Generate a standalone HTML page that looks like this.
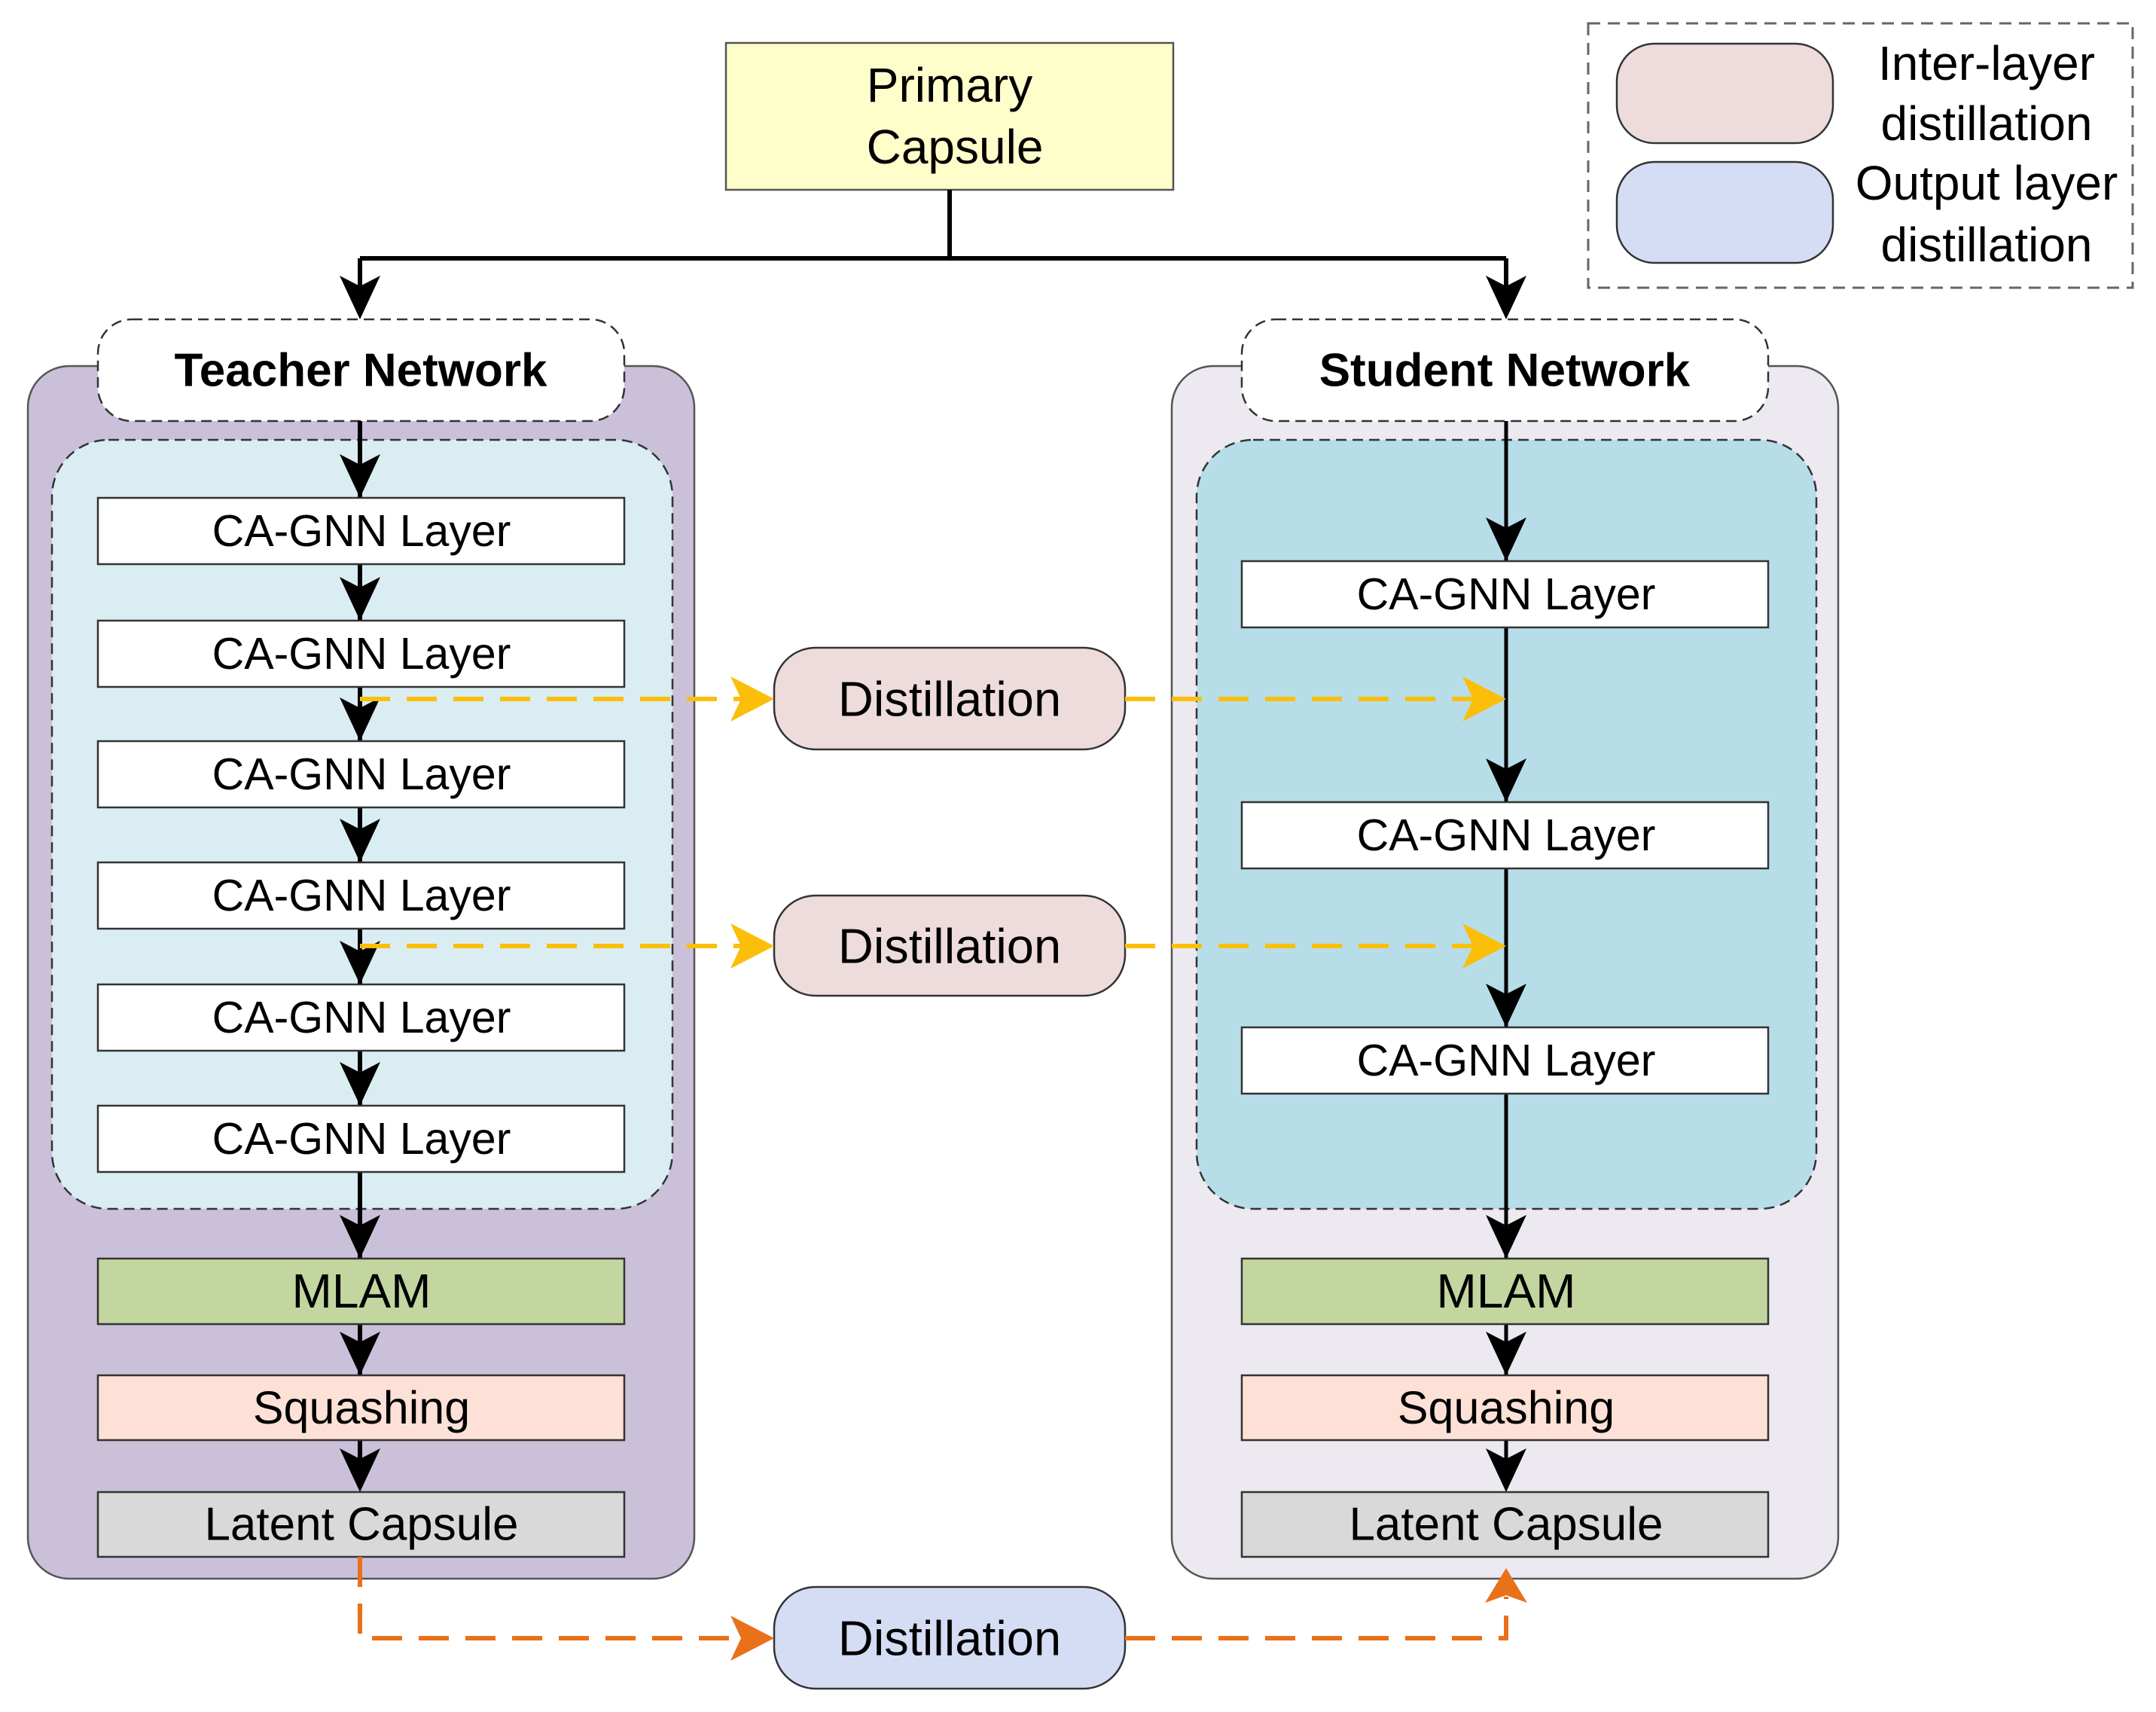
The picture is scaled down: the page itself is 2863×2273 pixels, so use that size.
<!DOCTYPE html>
<html><head><meta charset="utf-8"><style>html,body{margin:0;padding:0;background:#fff}svg{display:block}text{font-family:"Liberation Sans",sans-serif;text-anchor:middle;dominant-baseline:central;fill:#000}</style></head><body>
<svg width="2863" height="2273" viewBox="0 0 2863 2273" xmlns="http://www.w3.org/2000/svg">
<defs>
<path id="ah" d="M-27,-58 L0,0 L27,-58 L0,-44 Z" fill="#000"/>
<path id="ay" d="M-58,-30 L0,0 L-58,30 L-44,0 Z" fill="#fbbf0a"/>
<path id="ao" d="M-58,-30 L0,0 L-58,30 L-44,0 Z" fill="#e8711a"/>
</defs>
<!-- legend -->
<rect x="2109" y="31" width="723" height="351" fill="#fff" stroke="#666" stroke-width="3" stroke-dasharray="16,10"/>
<rect x="2147" y="58" width="287" height="132" rx="50" fill="#eedcdc" stroke="#333" stroke-width="2.5"/>
<rect x="2147" y="215" width="287" height="134" rx="50" fill="#d5ddf5" stroke="#333" stroke-width="2.5"/>
<text x="2638" y="84" font-size="64">Inter-layer</text>
<text x="2638" y="164" font-size="64">distillation</text>
<text x="2638" y="243" font-size="64">Output layer</text>
<text x="2638" y="325" font-size="64">distillation</text>
<!-- primary -->
<rect x="964" y="57" width="594" height="195" fill="#fefecb" stroke="#555" stroke-width="2.5"/>
<text x="1261" y="113" font-size="64">Primary</text>
<text x="1268" y="195" font-size="64">Capsule</text>
<path d="M1261,252 V343 M478,343 H2000 M478,343 V400 M2000,343 V400" stroke="#000" stroke-width="6" fill="none"/>
<use href="#ah" x="478" y="424"/><use href="#ah" x="2000" y="424"/>
<!-- teacher -->
<rect x="37" y="486" width="885" height="1610" rx="55" fill="#cbc0d9" stroke="#555" stroke-width="2.5"/>
<rect x="69" y="584" width="824" height="1021" rx="75" fill="#daedf2" stroke="#333" stroke-width="2.5" stroke-dasharray="14,8"/>
<rect x="130" y="424" width="699" height="135" rx="45" fill="#fff" stroke="#333" stroke-width="2.5" stroke-dasharray="14,8"/>
<text x="479" y="492" font-size="62" font-weight="bold">Teacher Network</text>
<!-- student -->
<rect x="1556" y="486" width="885" height="1610" rx="55" fill="#ece9f0" stroke="#555" stroke-width="2.5"/>
<rect x="1589" y="584" width="823" height="1021" rx="75" fill="#b7dde8" stroke="#333" stroke-width="2.5" stroke-dasharray="14,8"/>
<rect x="1649" y="424" width="699" height="135" rx="45" fill="#fff" stroke="#333" stroke-width="2.5" stroke-dasharray="14,8"/>
<text x="1998" y="492" font-size="62" font-weight="bold">Student Network</text>
<path d="M478,559 V1960" stroke="#000" stroke-width="6"/>
<path d="M2000,559 V1960" stroke="#000" stroke-width="5"/>
<g stroke="#333" stroke-width="2.5">
<rect x="130" y="661" width="699" height="88" fill="#fff"/>
<rect x="130" y="824" width="699" height="88" fill="#fff"/>
<rect x="130" y="984" width="699" height="88" fill="#fff"/>
<rect x="130" y="1145" width="699" height="88" fill="#fff"/>
<rect x="130" y="1307" width="699" height="88" fill="#fff"/>
<rect x="130" y="1468" width="699" height="88" fill="#fff"/>
<rect x="130" y="1671" width="699" height="87" fill="#c4d69f"/>
<rect x="130" y="1826" width="699" height="86" fill="#fde1d6"/>
<rect x="130" y="1981" width="699" height="86" fill="#d9d9d9"/>
<rect x="1649" y="745" width="699" height="88" fill="#fff"/>
<rect x="1649" y="1065" width="699" height="88" fill="#fff"/>
<rect x="1649" y="1364" width="699" height="88" fill="#fff"/>
<rect x="1649" y="1671" width="699" height="87" fill="#c4d69f"/>
<rect x="1649" y="1826" width="699" height="86" fill="#fde1d6"/>
<rect x="1649" y="1981" width="699" height="86" fill="#d9d9d9"/>
</g>
<g font-size="59">
<text x="480" y="705">CA-GNN Layer</text>
<text x="480" y="868">CA-GNN Layer</text>
<text x="480" y="1028">CA-GNN Layer</text>
<text x="480" y="1189">CA-GNN Layer</text>
<text x="480" y="1351">CA-GNN Layer</text>
<text x="480" y="1512">CA-GNN Layer</text>
<text x="2000" y="789">CA-GNN Layer</text>
<text x="2000" y="1109">CA-GNN Layer</text>
<text x="2000" y="1408">CA-GNN Layer</text>
</g>
<g font-size="64"><text x="480" y="1714">MLAM</text><text x="2000" y="1714">MLAM</text></g>
<g font-size="61"><text x="480" y="1869">Squashing</text><text x="2000" y="1869">Squashing</text></g>
<g font-size="62"><text x="480" y="2024">Latent Capsule</text><text x="2000" y="2024">Latent Capsule</text></g>
<use href="#ah" x="478" y="661"/><use href="#ah" x="478" y="824"/><use href="#ah" x="478" y="984"/>
<use href="#ah" x="478" y="1145"/><use href="#ah" x="478" y="1307"/><use href="#ah" x="478" y="1468"/>
<use href="#ah" x="478" y="1671"/><use href="#ah" x="478" y="1826"/><use href="#ah" x="478" y="1981"/>
<use href="#ah" x="2000" y="745"/><use href="#ah" x="2000" y="1065"/><use href="#ah" x="2000" y="1364"/>
<use href="#ah" x="2000" y="1671"/><use href="#ah" x="2000" y="1826"/><use href="#ah" x="2000" y="1981"/>
<rect x="1028" y="860" width="466" height="135" rx="55" fill="#eedcdc" stroke="#333" stroke-width="2.5"/>
<rect x="1028" y="1189" width="466" height="133" rx="55" fill="#eedcdc" stroke="#333" stroke-width="2.5"/>
<rect x="1028" y="2107" width="466" height="135" rx="55" fill="#d5ddf5" stroke="#333" stroke-width="2.5"/>
<g font-size="65">
<text x="1261" y="928">Distillation</text>
<text x="1261" y="1256">Distillation</text>
<text x="1261" y="2175">Distillation</text>
</g>
<g stroke="#fbbf0a" stroke-width="6" stroke-dasharray="40,22" fill="none">
<path d="M478,928 H985"/><path d="M1494,928 H1960"/>
<path d="M478,1256 H985"/><path d="M1494,1256 H1960"/>
</g>
<use href="#ay" x="1028" y="928"/><use href="#ay" x="2000" y="928"/>
<use href="#ay" x="1028" y="1256"/><use href="#ay" x="2000" y="1256"/>
<g stroke="#e8711a" stroke-width="6" stroke-dasharray="40,22" fill="none">
<path d="M478,2067 V2175 H985"/>
<path d="M1494,2175 H2000 V2120"/>
</g>
<use href="#ao" x="1028" y="2175"/>
<path d="M1972,2128 L2000,2082 L2028,2128 L2000,2118 Z" fill="#e8711a"/>
</svg>
</body></html>
